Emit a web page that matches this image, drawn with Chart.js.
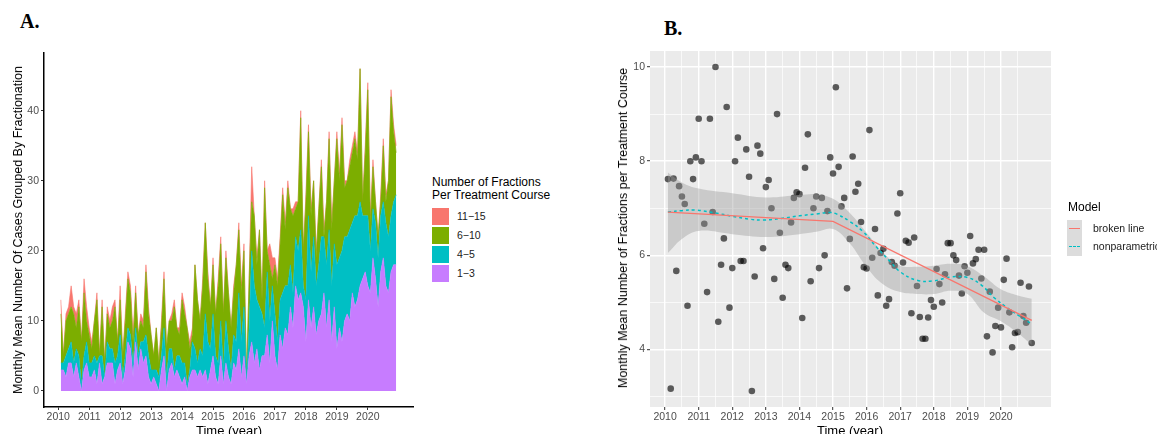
<!DOCTYPE html>
<html>
<head>
<meta charset="utf-8">
<script src="https://cdn.jsdelivr.net/npm/chart.js@4.4.1/dist/chart.umd.min.js"></script>
<style>
  html, body { margin: 0; padding: 0; background: #fff; overflow: hidden; }
  body { width: 1157px; height: 434px; position: relative; font-family: "Liberation Sans", Arial, sans-serif; }
  .abs { position: absolute; white-space: nowrap; }
  .tag { font-family: "Liberation Serif", "Times New Roman", serif; font-weight: bold; font-size: 20px; line-height: 20px; color: #000; }
  .ytitle { transform: translate(-50%, -50%) rotate(-90deg); font-size: 12.5px; color: #000; }
  .xtitle { transform: translateX(-50%); font-size: 13px; line-height: 15px; color: #000; }
  .leg-title { font-size: 12px; line-height: 12.5px; color: #000; }
  .leg-text { font-size: 10.5px; line-height: 17px; color: #1a1a1a; }
  .key { width: 17px; height: 17px; }
</style>
</head>
<body>

<div class="abs tag" style="left:20px; top:11px;">A.</div>
<div class="abs tag" style="left:664px; top:18px;">B.</div>

<canvas id="chartA" class="abs" width="420" height="434" style="left:0; top:0;"></canvas>
<canvas id="chartB" class="abs" width="470" height="434" style="left:600px; top:0;"></canvas>

<div class="abs ytitle" style="left:18px; top:230px;">Monthly Mean Number Of Cases Grouped By Fractionation</div>
<div class="abs xtitle" style="left:229px; top:423px;">Time (year)</div>
<div class="abs ytitle" style="left:623px; top:228px;">Monthly Mean Number of Fractions per Treatment Course</div>
<div class="abs xtitle" style="left:850px; top:423px;">Time (year)</div>

<!-- legend A -->
<div class="abs leg-title" style="left:432px; top:176px;">Number of Fractions<br>Per Treatment Course</div>
<div class="abs key" style="left:432px; top:208px; background:#F8766D;"></div>
<div class="abs key" style="left:432px; top:227px; background:#7CAE00;"></div>
<div class="abs key" style="left:432px; top:246px; background:#00BFC4;"></div>
<div class="abs key" style="left:432px; top:265px; background:#C77CFF;"></div>
<div class="abs leg-text" style="left:457px; top:208px;">11−15</div>
<div class="abs leg-text" style="left:457px; top:227px;">6−10</div>
<div class="abs leg-text" style="left:457px; top:246px;">4−5</div>
<div class="abs leg-text" style="left:457px; top:265px;">1−3</div>

<!-- legend B -->
<div class="abs leg-title" style="left:1068px; top:201px;">Model</div>
<div class="abs" style="left:1067px; top:220px; width:15px; height:36px; background:#DCDCDC;"></div>
<div class="abs" style="left:1069px; top:228px; width:11px; border-top:1.5px solid #F8766D;"></div>
<div class="abs" style="left:1069px; top:246px; width:11px; border-top:1.5px dashed #00BFC4;"></div>
<div class="abs leg-text" style="left:1093px; top:220px;">broken line</div>
<div class="abs leg-text" style="left:1093px; top:238px;">nonparametric</div>

<script>
// ---- panel A: monthly mean cases per fractionation group (Feb 2010 .. Dec 2020)
const frac1to3 = [
  3,3,2,4,4,2,4,2,0,3,4,2,
  2,3,1,4,1,2,4,4,4,1,3,4,
  1,3,7,6,2,7,3,6,4,5,2,1,
  2,1,0,3,5,0,3,4,2,3,2,1,
  2,0,2,3,3,2,3,2,3,1,3,5,
  2,1,5,1,4,2,1,4,3,6,2,5,
  1,5,7,4,6,3,5,5,8,4,10,5,
  3,8,6,9,8,12,9,15,13,14,12,
  7,13,9,12,8,10,11,14,9,13,7,12,
  6,9,7,10,11,10,14,12,13,15,16,17,
  15,14,19,16,12,17,19,15,14,17,18,18
];
const frac4to5 = [
  1,1,3,2,3,2,2,3,1,2,3,2,
  2,2,3,1,4,0,3,2,2,3,2,4,
  1,2,2,2,2,2,2,1,3,3,3,2,
  1,2,2,2,4,2,3,2,1,2,3,3,
  2,1,1,4,3,2,3,3,8,6,3,6,
  3,3,5,2,6,4,2,4,4,8,5,7,
  1,4,13,11,7,9,6,4,9,6,5,6,
  4,5,8,6,7,6,5,7,7,9,3,
  6,12,8,10,7,8,11,8,9,10,8,9,
  12,10,13,12,11,13,10,13,12,12,9,8,
  10,6,7,8,7,8,8,9,8,8,9,10
];
const frac6to10 = [
  7,1,5,5,5,7,3,7,6,9,3,4,
  2,5,9,0,7,2,4,3,4,8,2,5,
  3,5,7,6,3,5,3,3,2,9,6,5,
  2,6,2,4,7,4,4,4,9,4,3,9,
  7,8,3,1,12,9,4,10,13,9,6,7,
  6,11,11,8,9,8,6,6,11,9,7,8,
  0,7,7,10,5,11,2,20,3,8,1,7,
  8,8,14,8,14,8,11,4,7,16,5,
  14,12,8,8,4,8,10,0,9,13,8,9,
  18,11,18,7,8,9,10,11,8,19,2,9,
  18,4,6,3,3,2,8,3,8,17,10,6
];
const frac11to15 = [
  2,0,1,1,3,1,2,1,0,2,2,1,
  1,0,1,0,1,0,1,1,2,1,0,2,
  0,1,1,1,1,1,0,1,1,1,1,0,
  0,0,0,1,1,0,0,1,1,0,1,1,
  1,0,1,1,0,0,0,1,0,1,0,1,
  0,1,1,0,1,0,0,1,0,1,1,1,
  0,0,5,0,1,0,0,1,0,3,3,1,
  1,1,1,1,1,0,1,1,0,1,0,
  1,1,1,0,1,0,1,1,0,1,1,0,
  1,1,1,1,0,1,1,1,1,0,0,1,
  1,1,1,0,0,1,1,1,0,1,1,1
];

// ---- panel B: monthly mean number of fractions per course
const meanFractions = [
  7.62,3.17,7.63,5.67,7.47,7.25,7.09,4.93,8.00,7.62,8.08,8.90,
  8.00,6.67,5.22,8.90,6.92,10.0,4.59,5.80,6.36,9.15,4.89,5.73,
  8.00,8.50,5.88,5.88,8.25,7.67,3.12,5.55,8.33,8.16,6.15,7.45,
  7.60,7.00,5.50,9.00,6.48,5.10,5.80,5.73,6.70,7.22,7.34,7.30,
  4.67,7.86,8.57,5.45,7.00,7.25,5.73,7.22,6.00,6.94,8.08,7.74,
  9.57,7.88,7.04,7.22,5.30,6.35,8.10,7.35,7.52,6.71,5.75,5.72,
  8.66,5.95,6.56,5.15,6.05,6.14,4.93,5.07,5.86,5.78,6.89,7.32,
  5.85,6.31,6.27,4.77,6.38,5.35,4.69,4.23,4.23,4.68,5.05,4.91,
  5.71,5.39,5.00,5.60,6.26,6.26,6.00,5.90,5.57,5.19,5.77,5.63,
  6.41,5.83,5.92,6.12,5.51,6.12,4.28,5.23,3.94,4.50,4.89,4.47,
  5.48,5.93,4.79,4.05,4.35,4.37,5.42,4.71,4.57,5.34,4.14
];
const brokenYears = [2010.083, 2015.0, 2020.917];
const brokenVals = [6.92, 6.72, 4.62];

const loessYears = [2010.083, 2010.5, 2010.92, 2011.5, 2012.0, 2012.5, 2012.92, 2013.5, 2014.0, 2014.5, 2014.9, 2015.1,
  2015.5, 2015.9, 2016.3, 2016.7, 2017.0, 2017.5, 2018.0, 2018.5, 2019.0, 2019.4, 2019.8, 2020.2, 2020.6, 2020.917];
const loessVals = [6.92, 6.95, 6.96, 6.90, 6.83, 6.77, 6.75, 6.79, 6.84, 6.88, 6.91, 6.88,
  6.72, 6.50, 6.17, 5.87, 5.65, 5.47, 5.46, 5.54, 5.53, 5.38, 5.10, 4.88, 4.69, 4.54];

const bandYears = [2010.083, 2010.5, 2011.0, 2012.0, 2013.0, 2014.0, 2014.5, 2015.0, 2015.5, 2016.0,
  2016.5, 2017.0, 2017.5, 2018.0, 2018.5, 2019.0, 2019.5, 2020.0, 2020.5, 2020.917];
const bandUpper = [7.76, 7.55, 7.42, 7.32, 7.23, 7.28, 7.30, 7.20, 6.90, 6.48,
  6.05, 5.78, 5.76, 5.78, 5.82, 5.77, 5.55, 5.28, 5.15, 5.08];
const bandLower = [6.05, 6.35, 6.52, 6.45, 6.39, 6.45, 6.50, 6.56, 6.25, 5.75,
  5.38, 5.22, 5.18, 5.18, 5.25, 5.18, 4.78, 4.60, 4.35, 4.10];

// axis ticks
const yearTicks = [2010, 2011, 2012, 2013, 2014, 2015, 2016, 2017, 2018, 2019, 2020];
const yearGridB = [2010, 2010.5, 2011, 2011.5, 2012, 2012.5, 2013, 2013.5, 2014, 2014.5, 2015, 2015.5,
  2016, 2016.5, 2017, 2017.5, 2018, 2018.5, 2019, 2019.5, 2020, 2020.5];
const countTicks = [0, 10, 20, 30, 40];
const fracGridB = [3, 4, 5, 6, 7, 8, 9, 10];
const fracLabelsB = [4, 6, 8, 10];

const FONT = "'Liberation Sans', Arial, sans-serif";
const monthOf = (i) => 2010 + (i + 1) / 12;
const toXY = (arr) => arr.map((v, i) => ({ x: monthOf(i), y: v }));
const pairs = (xs, ys) => xs.map((x, i) => ({ x: x, y: ys[i] }));

function area(label, data, color, fill) {
  return {
    label: label,
    data: toXY(data),
    backgroundColor: color,
    borderColor: color,
    borderWidth: 0.6,
    pointRadius: 0,
    tension: 0,
    fill: fill
  };
}

const chartA = new Chart(document.getElementById("chartA"), {
  type: "line",
  data: {
    datasets: [
      area("1-3", frac1to3, "#C77CFF", "origin"),
      area("4-5", frac4to5, "#00BFC4", "-1"),
      area("6-10", frac6to10, "#7CAE00", "-1"),
      area("11-15", frac11to15, "#F8766D", "-1"),
    ],
  },
  options: {
    responsive: false,
    animation: false,
    events: [],
    layout: { padding: { left: 0, top: 52.6, right: 7, bottom: 0 } },
    plugins: { legend: { display: false }, tooltip: { enabled: false } },
    scales: {
      x: {
        type: "linear",
        min: 2009.54,
        max: 2021.46,
        afterBuildTicks: (ax) => { ax.ticks = yearTicks.map((v) => ({ value: v })); },
        afterFit: (s) => { s.height = 27; },
        grid: { drawOnChartArea: false, tickLength: 3, tickColor: "#333", tickWidth: 1 },
        border: { display: true, color: "#000", width: 1.5 },
        ticks: { color: "#4d4d4d", font: { family: FONT, size: 10.5 }, padding: 1, maxRotation: 0, autoSkip: false,
                 callback: (v) => String(v) },
      },
      y: {
        stacked: true,
        min: -2.3,
        max: 48.3,
        afterBuildTicks: (ax) => { ax.ticks = countTicks.map((v) => ({ value: v })); },
        afterFit: (s) => { s.width = 44; },
        grid: { drawOnChartArea: false, tickLength: 3, tickColor: "#333", tickWidth: 1 },
        border: { display: true, color: "#000", width: 1.5 },
        ticks: { color: "#4d4d4d", font: { family: FONT, size: 10.5 }, padding: 2, callback: (v) => String(v) },
      },
    },
  },
});

const panelBg = {
  id: "panelBg",
  beforeDraw(chart, args, opts) {
    const { ctx, chartArea: a } = chart;
    ctx.save();
    ctx.fillStyle = opts.color;
    ctx.fillRect(a.left, a.top, a.right - a.left, a.bottom - a.top);
    ctx.restore();
  },
};

const isMajorYear = (v) => Number.isInteger(v);
const isMajorFrac = (v) => fracLabelsB.includes(v);

const chartB = new Chart(document.getElementById("chartB"), {
  type: "line",
  plugins: [panelBg],
  data: {
    datasets: [
      {
        label: "broken line",
        data: pairs(brokenYears, brokenVals),
        borderColor: "#F8766D",
        borderWidth: 1.3,
        pointRadius: 0,
        fill: false,
      },
      {
        label: "nonparametric",
        data: pairs(loessYears, loessVals),
        borderColor: "#00BFC4",
        borderWidth: 1.5,
        borderDash: [3, 3],
        pointRadius: 0,
        tension: 0.4,
        fill: false,
      },
      {
        label: "band upper",
        data: pairs(bandYears, bandUpper),
        borderWidth: 0,
        borderColor: "rgba(0,0,0,0)",
        backgroundColor: "rgba(153,153,153,0.4)",
        pointRadius: 0,
        tension: 0.4,
        fill: "+1",
      },
      {
        label: "band lower",
        data: pairs(bandYears, bandLower),
        borderWidth: 0,
        borderColor: "rgba(0,0,0,0)",
        pointRadius: 0,
        tension: 0.4,
        fill: false,
      },
      {
        label: "monthly mean",
        data: toXY(meanFractions),
        showLine: false,
        pointRadius: 3.3,
        pointBorderWidth: 0,
        pointBackgroundColor: "rgba(0,0,0,0.62)",
      },
    ],
  },
  options: {
    responsive: false,
    animation: false,
    events: [],
    layout: { padding: { left: 0, top: 51, right: 19, bottom: 0 } },
    plugins: { legend: { display: false }, tooltip: { enabled: false }, panelBg: { color: "#EBEBEB" } },
    scales: {
      x: {
        type: "linear",
        min: 2009.55,
        max: 2021.49,
        afterBuildTicks: (ax) => { ax.ticks = yearGridB.map((v) => ({ value: v })); },
        afterFit: (s) => { s.height = 27; },
        grid: {
          color: "#fff",
          lineWidth: (c) => (c.tick && isMajorYear(c.tick.value) ? 1.4 : 0.7),
          tickLength: 3,
          tickWidth: 1,
          tickColor: (c) => (c.tick && isMajorYear(c.tick.value) ? "#333" : "rgba(0,0,0,0)"),
        },
        border: { display: false },
        ticks: { color: "#4d4d4d", font: { family: FONT, size: 10.5 }, padding: 1, maxRotation: 0, autoSkip: false,
                 callback: (v) => (isMajorYear(v) ? String(v) : "") },
      },
      y: {
        min: 2.78,
        max: 10.34,
        afterBuildTicks: (ax) => { ax.ticks = fracGridB.map((v) => ({ value: v })); },
        afterFit: (s) => { s.width = 50; },
        grid: {
          color: "#fff",
          lineWidth: (c) => (c.tick && isMajorFrac(c.tick.value) ? 1.4 : 0.7),
          tickLength: 3,
          tickWidth: 1,
          tickColor: (c) => (c.tick && isMajorFrac(c.tick.value) ? "#333" : "rgba(0,0,0,0)"),
        },
        border: { display: false },
        ticks: { color: "#4d4d4d", font: { family: FONT, size: 10.5 }, padding: 2, autoSkip: false,
                 callback: (v) => (isMajorFrac(v) ? String(v) : "") },
      },
    },
  },
});
</script>
</body>
</html>
